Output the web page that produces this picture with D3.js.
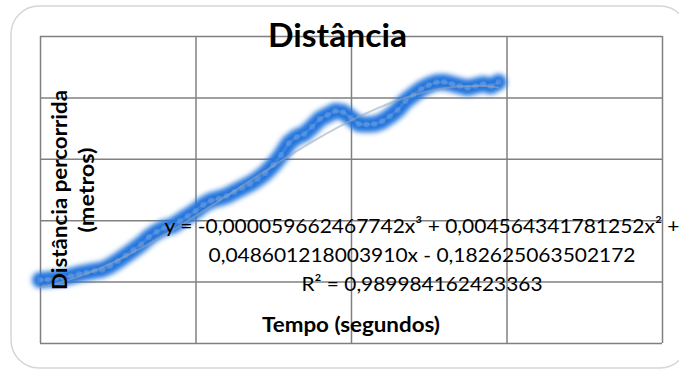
<!DOCTYPE html>
<html>
<head>
<meta charset="utf-8">
<script src="https://cdn.jsdelivr.net/npm/d3@7"></script>
<style>
  body { margin: 0; background: #fff; }
  text { font-family: Lato, "Open Sans", sans-serif; fill: #000; }
</style>
</head>
<body>
<svg id="chart" width="679" height="370"></svg>
<script>
// time (s) and distance (m)
var tempo = d3.range(0, 60);
var distancia = [0.05, 0.07, 0.10, 0.13, 0.18, 0.25, 0.30, 0.35, 0.39, 0.51,
  0.67, 0.85, 1.03, 1.22, 1.45, 1.62, 1.75, 1.81, 1.97, 2.14,
  2.30, 2.50, 2.64, 2.71, 2.79, 2.92, 3.05, 3.18, 3.34, 3.54,
  3.80, 4.12, 4.51, 4.71, 4.81, 5.04, 5.30, 5.43, 5.56, 5.52,
  5.33, 5.13, 5.12, 5.13, 5.22, 5.39, 5.59, 5.88, 6.08, 6.27,
  6.40, 6.49, 6.50, 6.44, 6.37, 6.31, 6.37, 6.44, 6.36, 6.50];
var xTicks = [0, 20, 40, 60, 80];
var yTicks = [-2, 0, 2, 4, 6, 8];
// cubic trendline coefficients
var coef = [-0.000059662467742, 0.004564341781252, 0.048601218003910, -0.182625063502172];
var eqLines = ["y = -0,000059662467742x³ + 0,004564341781252x² +",
  "0,048601218003910x - 0,182625063502172",
  "R² = 0,989984162423363"];

var svg = d3.select("#chart");

// chart frame
svg.append("rect")
  .attr("x", 11).attr("y", 6)
  .attr("width", 677).attr("height", 362)
  .attr("rx", 28).attr("ry", 28)
  .attr("fill", "#fff")
  .attr("stroke", "#d6d6d6")
  .attr("stroke-width", 1.5);

var x = d3.scaleLinear().domain([0, 80]).range([40, 662]);
var y = d3.scaleLinear().domain([-2, 8]).range([343, 36]);

// gridlines
svg.append("g")
  .attr("transform", "translate(0,343)")
  .call(d3.axisBottom(x).tickValues(xTicks).tickSize(-307).tickFormat(""))
  .call(g => g.select(".domain").remove())
  .call(g => g.selectAll(".tick line").attr("stroke", "#808080").attr("stroke-width", 1.5));

svg.append("g")
  .attr("transform", "translate(40,0)")
  .call(d3.axisLeft(y).tickValues(yTicks).tickSize(-622).tickFormat(""))
  .call(g => g.select(".domain").remove())
  .call(g => g.selectAll(".tick line").attr("stroke", "#808080").attr("stroke-width", 1.5));

// glow filter
var defs = svg.append("defs");
defs.append("filter").attr("id", "glow")
  .attr("x", "-10%").attr("y", "-10%").attr("width", "120%").attr("height", "120%")
  .append("feGaussianBlur").attr("stdDeviation", 2.6);

var data = tempo.map((t, i) => [t, distancia[i]]);
var line = d3.line().x(d => x(d[0])).y(d => y(d[1])).curve(d3.curveLinear);

svg.append("path")
  .datum(data)
  .attr("d", line)
  .attr("fill", "none")
  .attr("stroke", "#2474dc")
  .attr("stroke-width", 16)
  .attr("stroke-linejoin", "round")
  .attr("stroke-linecap", "round")
  .attr("filter", "url(#glow)");

svg.append("path")
  .datum(data)
  .attr("d", line)
  .attr("fill", "none")
  .attr("stroke", "#5f95dd")
  .attr("stroke-width", 3)
  .attr("stroke-opacity", 0.45);

svg.append("g")
  .selectAll("circle")
  .data(data)
  .join("circle")
  .attr("cx", d => x(d[0]))
  .attr("cy", d => y(d[1]))
  .attr("r", 3)
  .attr("fill", "#a9c4ec")
  .attr("fill-opacity", 0.25);

// trendline
var trend = d3.range(0, 59.01, 0.5).map(t => [t, ((coef[0] * t + coef[1]) * t + coef[2]) * t + coef[3]]);
svg.append("path")
  .datum(trend)
  .attr("d", line)
  .attr("fill", "none")
  .attr("stroke", "#9aa6b8")
  .attr("stroke-width", 2)
  .attr("stroke-opacity", 0.55);

// title
svg.append("text")
  .attr("x", 337.5).attr("y", 47)
  .attr("text-anchor", "middle")
  .attr("font-size", 32).attr("font-weight", "bold")
  .attr("textLength", 139).attr("lengthAdjust", "spacingAndGlyphs")
  .text("Distância");

// axis titles
var yt = svg.append("g").attr("transform", "rotate(-90)");
yt.append("text")
  .attr("x", -190).attr("y", 67)
  .attr("text-anchor", "middle")
  .attr("font-size", 21).attr("font-weight", "bold")
  .attr("textLength", 200).attr("lengthAdjust", "spacingAndGlyphs")
  .text("Distância percorrida");
yt.append("text")
  .attr("x", -190).attr("y", 94)
  .attr("text-anchor", "middle")
  .attr("font-size", 21).attr("font-weight", "bold")
  .attr("textLength", 85).attr("lengthAdjust", "spacingAndGlyphs")
  .text("(metros)");

svg.append("text")
  .attr("x", 351).attr("y", 332)
  .attr("text-anchor", "middle")
  .attr("font-size", 21).attr("font-weight", "bold")
  .attr("textLength", 178).attr("lengthAdjust", "spacingAndGlyphs")
  .text("Tempo (segundos)");

// trendline equation
var eqWidths = [515, 427, 241];
svg.append("g")
  .selectAll("text")
  .data(eqLines)
  .join("text")
  .attr("x", 422)
  .attr("y", (d, i) => 233 + i * 29)
  .attr("text-anchor", "middle")
  .attr("font-size", 20)
  .attr("textLength", (d, i) => eqWidths[i])
  .attr("lengthAdjust", "spacingAndGlyphs")
  .text(d => d);
</script>
</body>
</html>
